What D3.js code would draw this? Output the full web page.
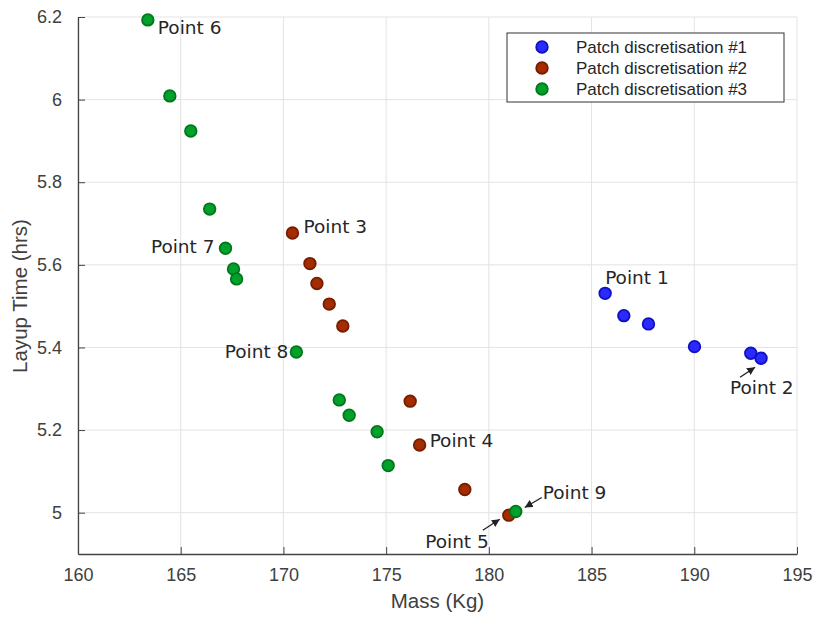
<!DOCTYPE html>
<html>
<head>
<meta charset="utf-8">
<script src="https://cdn.jsdelivr.net/npm/d3@7"></script>
<style>
  body { margin: 0; background: #fff; }
  text { font-family: "Liberation Sans", Arial, sans-serif; }
  .note { font-family: "DejaVu Sans", sans-serif; font-size: 18.5px; fill: #262626; }
</style>
</head>
<body>
<script>
// Data: mass (Kg) vs layup time (hrs)
const seriesNames = ["Patch discretisation #1", "Patch discretisation #2", "Patch discretisation #3"];

const mass1 = [185.66, 186.57, 187.77, 190.01, 192.75, 193.25];
const time1 = [5.531, 5.477, 5.457, 5.402, 5.386, 5.374];

const mass2 = [170.44, 171.29, 171.63, 172.23, 172.89, 176.17, 176.63, 178.83, 180.97];
const time2 = [5.677, 5.603, 5.555, 5.505, 5.452, 5.270, 5.164, 5.056, 4.994];

const mass3 = [163.40, 164.47, 165.49, 166.41, 167.18, 167.57, 167.72, 170.63, 172.72, 173.20, 174.56, 175.10, 181.31];
const time3 = [6.193, 6.009, 5.924, 5.735, 5.640, 5.590, 5.566, 5.389, 5.273, 5.236, 5.196, 5.114, 5.003];

const xTicks = [160, 165, 170, 175, 180, 185, 190, 195];
const yTicks = [5, 5.2, 5.4, 5.6, 5.8, 6, 6.2];

// annotations: label, series index, point index
const noteLabels = ["Point 1", "Point 2", "Point 3", "Point 4", "Point 5", "Point 6", "Point 7", "Point 8", "Point 9"];
const noteSeries = [0, 0, 1, 1, 1, 2, 2, 2, 2];
const notePoint  = [0, 5, 0, 6, 8, 0, 4, 7, 12];

const width = 813, height = 617;
const svg = d3.select("body").append("svg")
    .attr("width", width)
    .attr("height", height);

const x = d3.scaleLinear().domain([160, 195]).range([78, 797]);
const y = d3.scaleLinear().domain([4.9, 6.2]).range([554, 17]);

const fills = ["#2a2aff", "#a32c00", "#00a12a"];
const strokes = ["#1010c0", "#761c00", "#00781a"];

// grid
svg.append("g").selectAll("line").data(xTicks).enter().append("line")
    .attr("x1", d => x(d)).attr("x2", d => x(d))
    .attr("y1", y(4.9)).attr("y2", y(6.2))
    .style("stroke", "#e3e3e3");
svg.append("g").selectAll("line").data(yTicks).enter().append("line")
    .attr("x1", x(160)).attr("x2", x(195))
    .attr("y1", d => y(d)).attr("y2", d => y(d))
    .style("stroke", "#e3e3e3");

// axes
const xAxis = svg.append("g")
    .attr("transform", "translate(0," + y(4.9) + ")")
    .call(d3.axisBottom(x).tickValues(xTicks).tickSizeInner(-7).tickSizeOuter(0).tickPadding(11).tickFormat(d3.format("d")));
const yAxis = svg.append("g")
    .attr("transform", "translate(" + x(160) + ",0)")
    .call(d3.axisLeft(y).tickValues(yTicks).tickSizeInner(-7).tickSizeOuter(0).tickPadding(16).tickFormat(d => d3.format("")(+d.toFixed(1))));
[xAxis, yAxis].forEach(g => {
    g.select(".domain").style("stroke", "#444").style("stroke-width", 1.3);
    g.selectAll(".tick line").style("stroke", "#444");
    g.selectAll(".tick text").style("font-size", "18px").style("fill", "#404040")
        .style("font-family", "'Liberation Sans', Arial, sans-serif");
});
xAxis.selectAll(".tick text").attr("dy", "0.9em");

svg.append("text")
    .attr("x", (x(160) + x(195)) / 2).attr("y", 608)
    .attr("text-anchor", "middle")
    .style("font-size", "20.5px").style("fill", "#404040")
    .text("Mass (Kg)");
svg.append("text")
    .attr("transform", "translate(27,296) rotate(-90)")
    .attr("text-anchor", "middle")
    .style("font-size", "20.5px").style("fill", "#404040")
    .text("Layup Time (hrs)");

// points
const allMass = [mass1, mass2, mass3];
const allTime = [time1, time2, time3];
allMass.forEach((ms, s) => {
    svg.append("g").selectAll("circle")
        .data(ms.map((m, i) => [m, allTime[s][i]]))
        .enter().append("circle")
        .attr("cx", d => x(d[0]))
        .attr("cy", d => y(d[1]))
        .attr("r", 5.8)
        .style("fill", fills[s])
        .style("stroke", strokes[s])
        .style("stroke-width", 1.8);
});

// arrow head
svg.append("defs").append("marker")
    .attr("id", "head")
    .attr("viewBox", "0 0 10 10")
    .attr("refX", 10).attr("refY", 5)
    .attr("markerWidth", 8).attr("markerHeight", 8)
    .attr("markerUnits", "userSpaceOnUse")
    .attr("orient", "auto")
    .append("path").attr("d", "M0,0 L10,5 L0,10 z").style("fill", "#222");

// label placement relative to its point: dx, dy, anchor, arrow start (dx,dy) and end (dx,dy)
const notePlace = [
    { dx: 0, dy: -9, anchor: "start" },
    { dx: -31, dy: 36, anchor: "start", arrow: [-21, 19, -6, 9] },
    { dx: 11, dy: 0, anchor: "start" },
    { dx: 10, dy: 2, anchor: "start" },
    { dx: -20, dy: 33, anchor: "end", arrow: [-26, 15, -9, 4] },
    { dx: 10, dy: 14.5, anchor: "start" },
    { dx: -11, dy: 5, anchor: "end" },
    { dx: -8, dy: 6, anchor: "end" },
    { dx: 27, dy: -12.5, anchor: "start", arrow: [26, -14, 9, -4] }
];

noteLabels.forEach((lab, k) => {
    const s = noteSeries[k], i = notePoint[k];
    const px = x(allMass[s][i]), py = y(allTime[s][i]);
    const p = notePlace[k];
    if (p.arrow) {
        svg.append("line")
            .attr("x1", px + p.arrow[0]).attr("y1", py + p.arrow[1])
            .attr("x2", px + p.arrow[2]).attr("y2", py + p.arrow[3])
            .style("stroke", "#222").style("stroke-width", 1.3)
            .attr("marker-end", "url(#head)");
    }
    svg.append("text")
        .attr("class", "note")
        .attr("x", px + p.dx).attr("y", py + p.dy)
        .attr("text-anchor", p.anchor)
        .text(lab);
});

// legend
const legend = svg.append("g");
legend.append("rect")
    .attr("x", 507).attr("y", 33).attr("width", 277).attr("height", 69)
    .style("fill", "#fff").style("stroke", "#333").style("stroke-width", 1);
seriesNames.forEach((name, s) => {
    legend.append("circle")
        .attr("cx", 542).attr("cy", 47 + s * 21).attr("r", 5.8)
        .style("fill", fills[s]).style("stroke", strokes[s]).style("stroke-width", 1.8);
    legend.append("text")
        .attr("x", 576).attr("y", 53 + s * 21)
        .style("font-size", "17px").style("fill", "#262626")
        .text(name);
});
</script>
</body>
</html>
